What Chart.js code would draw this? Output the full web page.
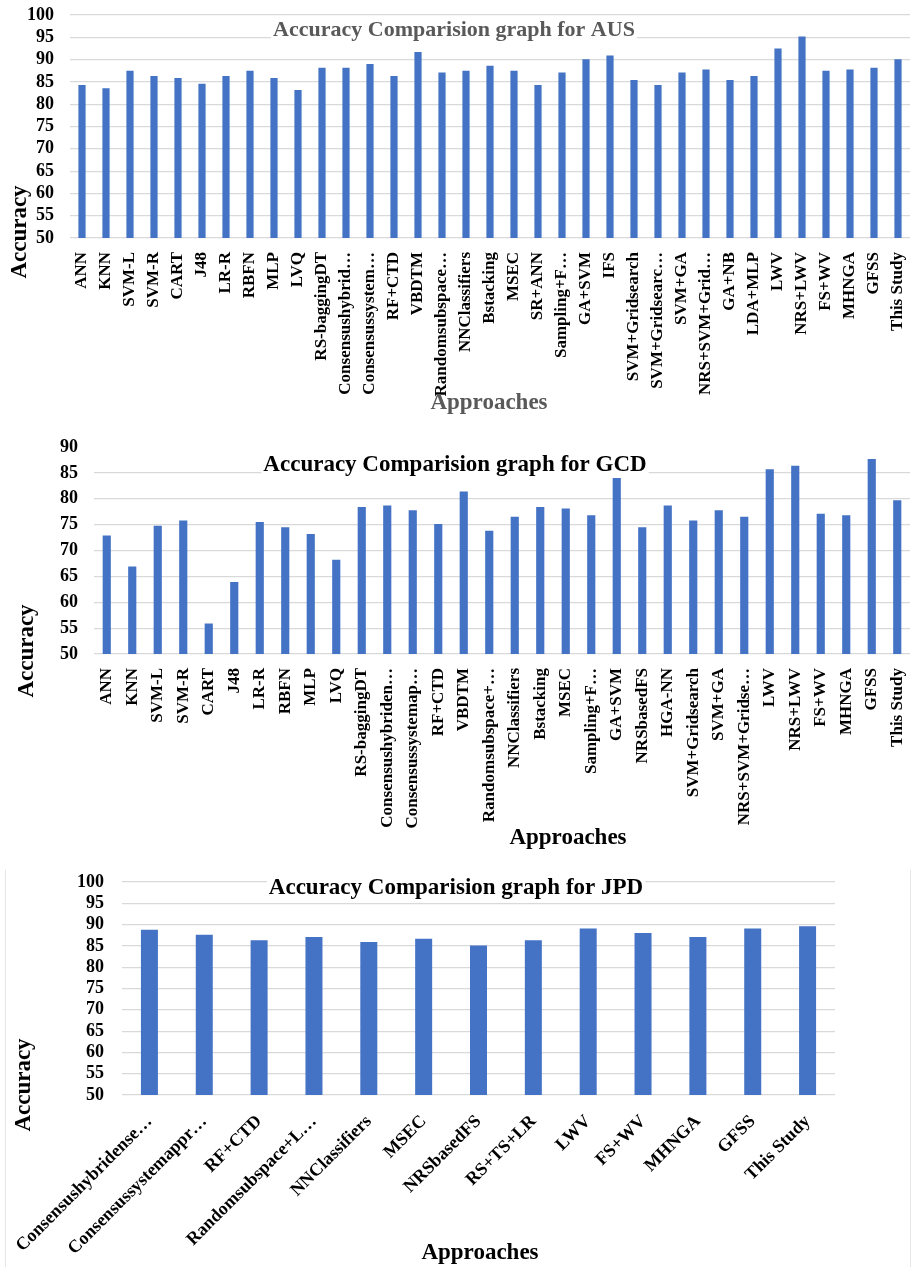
<!DOCTYPE html>
<html>
<head>
<meta charset="utf-8">
<script src="https://cdn.jsdelivr.net/npm/chart.js@4.4.1/dist/chart.umd.min.js"></script>
<style>
  html, body { margin: 0; padding: 0; background: #fff; }
  #page { position: relative; width: 913px; height: 1267px; overflow: hidden; }
  canvas { position: absolute; left: 0; }
  #jpdFrame { position: absolute; left: 5px; top: 870px; width: 904px; height: 400px;
              border-left: 1px solid #e6e6e6; border-right: 1px solid #e6e6e6; }
</style>
</head>
<body>
<div id="page">
  <div id="jpdFrame"></div>
  <canvas id="aus" width="913" height="420" style="top:0"></canvas>
  <canvas id="gcd" width="913" height="440" style="top:420px"></canvas>
  <canvas id="jpd" width="913" height="407" style="top:860px"></canvas>
</div>
<script>
// ---- data ----
const ausLabels = ['ANN', 'KNN', 'SVM-L', 'SVM-R', 'CART', 'J48', 'LR-R', 'RBFN', 'MLP', 'LVQ',
  'RS-baggingDT', 'Consensushybrid…', 'Consensussystem…', 'RF+CTD', 'VBDTM', 'Randomsubspace…',
  'NNClassifiers', 'Bstacking', 'MSEC', 'SR+ANN', 'Sampling+F…', 'GA+SVM', 'IFS', 'SVM+Gridsearch',
  'SVM+Gridsearc…', 'SVM+GA', 'NRS+SVM+Grid…', 'GA+NB', 'LDA+MLP', 'LWV', 'NRS+LWV', 'FS+WV',
  'MHNGA', 'GFSS', 'This Study'];
const ausAccuracy = [84.3, 83.6, 87.5, 86.3, 85.9, 84.6, 86.3, 87.5, 85.9, 83.2,
  88.2, 88.2, 89.0, 86.3, 91.7, 87.1,
  87.5, 88.6, 87.5, 84.3, 87.1, 90.1, 90.9, 85.4,
  84.3, 87.1, 87.8, 85.4, 86.3, 92.5, 95.2, 87.5,
  87.8, 88.2, 90.1];

const gcdLabels = ['ANN', 'KNN', 'SVM-L', 'SVM-R', 'CART', 'J48', 'LR-R', 'RBFN', 'MLP', 'LVQ',
  'RS-baggingDT', 'Consensushybriden…', 'Consensussystemap…', 'RF+CTD', 'VBDTM', 'Randomsubspace+…',
  'NNClassifiers', 'Bstacking', 'MSEC', 'Sampling+F…', 'GA+SVM', 'NRSbasedFS', 'HGA-NN',
  'SVM+Gridsearch', 'SVM+GA', 'NRS+SVM+Gridse…', 'LWV', 'NRS+LWV', 'FS+WV', 'MHNGA', 'GFSS', 'This Study'];
const gcdAccuracy = [72.9, 66.9, 74.8, 75.8, 55.9, 63.9, 75.5, 74.5, 73.2, 68.2,
  78.4, 78.7, 77.8, 75.1, 81.4, 73.8,
  76.5, 78.4, 78.1, 76.8, 84.0, 74.5, 78.7,
  75.8, 77.8, 76.5, 85.7, 86.4, 77.1, 76.8, 87.7, 79.7];

const jpdLabels = ['Consensushybridense…', 'Consensussystemappr…', 'RF+CTD', 'Randomsubspace+L…',
  'NNClassifiers', 'MSEC', 'NRSbasedFS', 'RS+TS+LR', 'LWV', 'FS+WV', 'MHNGA', 'GFSS', 'This Study'];
const jpdAccuracy = [88.8, 87.6, 86.3, 87.1, 85.9, 86.7, 85.1, 86.3, 89.1, 88.0, 87.1, 89.1, 89.6];

const ausRange = [50, 100];
const gcdRange = [50, 90];
const jpdRange = [50, 100];

Chart.defaults.font.family = '"Liberation Serif", "Times New Roman", serif';
Chart.defaults.font.weight = 'bold';

// titles sit on top of the plot with a white box, like the office chart did
const overlayText = {
  id: 'overlayText',
  afterDraw(chart, args, opts) {
    const ctx = chart.ctx;
    (opts.items || []).forEach(t => {
      ctx.save();
      ctx.font = `bold ${t.size}px "Liberation Serif", serif`;
      ctx.textAlign = 'center';
      ctx.textBaseline = 'middle';
      ctx.translate(t.x, t.y);
      if (t.rotate) ctx.rotate(t.rotate);
      if (t.box) {
        const w = ctx.measureText(t.text).width;
        ctx.fillStyle = '#fff';
        ctx.fillRect(-w / 2 - 2, -12, w + 4, 22);
      }
      ctx.fillStyle = t.color || '#000';
      ctx.fillText(t.text, 0, 0);
      ctx.restore();
    });
  }
};

function makeChart(id, labels, values, range, c) {
  return new Chart(document.getElementById(id), {
    type: 'bar',
    data: {
      labels: labels,
      datasets: [{ data: values, backgroundColor: '#4472C4', barPercentage: c.barPct, categoryPercentage: 1 }]
    },
    options: {
      responsive: false,
      animation: false,
      layout: { padding: c.pad },
      plugins: {
        legend: { display: false },
        tooltip: { enabled: false },
        overlayText: { items: c.texts }
      },
      scales: {
        x: {
          grid: { display: false },
          border: { display: false },
          ticks: {
            autoSkip: false, maxRotation: c.rot, minRotation: c.rot, padding: c.xPad,
            color: '#000', font: { size: c.xFont, weight: 'bold' }
          },
          // fixed box, no overhang padding -> plot area stays where the layout puts it
          afterFit: s => { s.height = c.xHeight; s.paddingLeft = 0; s.paddingRight = 0; }
        },
        y: {
          min: range[0], max: range[1],
          border: { display: false },
          grid: {
            drawTicks: false, lineWidth: 1.2,
            color: g => (g.tick && g.tick.value === c.noGrid) ? 'rgba(0,0,0,0)' : '#d9d9d9'
          },
          ticks: {
            stepSize: 5, autoSkip: false, padding: c.yPad, color: '#000',
            font: { size: 18, weight: 'bold' }
          },
          afterFit: s => { s.width = c.yWidth; s.paddingTop = 0; s.paddingBottom = 0; }
        }
      }
    },
    plugins: [overlayText]
  });
}

makeChart('aus', ausLabels, ausAccuracy, ausRange, {
  barPct: 0.3, rot: 90, xFont: 17, xPad: 6, yPad: 16,
  pad: { left: 20, right: 3, top: 15, bottom: 0 }, yWidth: 50, xHeight: 182,
  texts: [
    { text: 'Accuracy Comparision graph for AUS', x: 454, y: 30, size: 22, color: '#595959', box: true },
    { text: 'Approaches', x: 489, y: 403, size: 23, color: '#595959' },
    { text: 'Accuracy', x: 20, y: 232, size: 23, rotate: -Math.PI / 2 }
  ]
});

makeChart('gcd', gcdLabels, gcdAccuracy, gcdRange, {
  barPct: 0.32, rot: 90, xFont: 17, xPad: 6, yPad: 16, noGrid: 90,
  pad: { left: 20, right: 3, top: 27, bottom: 0 }, yWidth: 74, xHeight: 206,
  texts: [
    { text: 'Accuracy Comparision graph for GCD', x: 455, y: 45, size: 23, box: true },
    { text: 'Approaches', x: 568, y: 418, size: 23 },
    { text: 'Accuracy', x: 27, y: 231, size: 23, rotate: -Math.PI / 2 }
  ]
});

makeChart('jpd', jpdLabels, jpdAccuracy, jpdRange, {
  barPct: 0.31, rot: 45, xFont: 18, xPad: 8, yPad: 18,
  pad: { left: 20, right: 78, top: 22, bottom: 0 }, yWidth: 102, xHeight: 172,
  texts: [
    { text: 'Accuracy Comparision graph for JPD', x: 456, y: 28, size: 23, box: true },
    { text: 'Approaches', x: 480, y: 393, size: 23 },
    { text: 'Accuracy', x: 24, y: 225, size: 23, rotate: -Math.PI / 2 }
  ]
});
</script>
</body>
</html>
